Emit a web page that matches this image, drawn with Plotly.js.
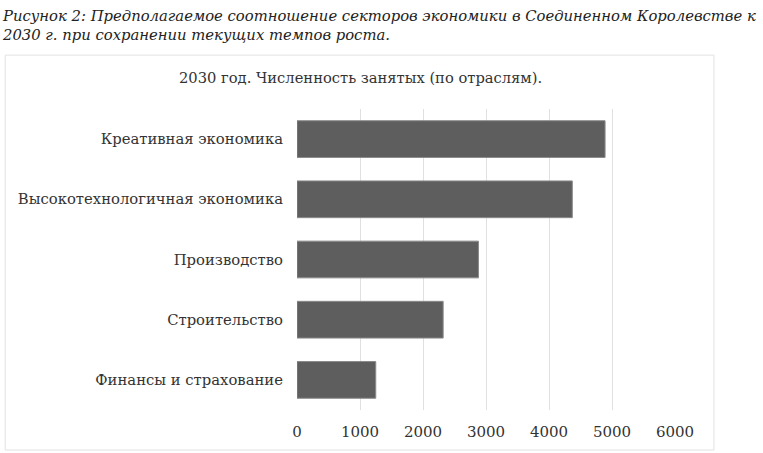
<!DOCTYPE html>
<html>
<head>
<meta charset="utf-8">
<script src="https://cdn.plot.ly/plotly-3.0.1.min.js"></script>
<style>
  html, body { margin: 0; padding: 0; background: #fff; }
  #plot { width: 763px; height: 453px; }
</style>
</head>
<body>
<div id="plot"></div>
<script>
// отрасли сверху вниз
var sectors = [
    "Креативная экономика",
    "Высокотехнологичная экономика",
    "Производство",
    "Строительство",
    "Финансы и страхование"
];
// численность занятых, 2030 (тыс.)
var employed = [4890, 4370, 2880, 2320, 1250];

var xTicks = [0, 1000, 2000, 3000, 4000, 5000, 6000];

var figCaption = "Рисунок 2: Предполагаемое соотношение секторов экономики в Соединенном Королевстве к<br>2030 г. при сохранении текущих темпов роста.";
var chartTitle = "2030 год. Численность занятых (по отраслям).";

var serif = "DejaVu Serif, Liberation Serif, serif";

var trace1 = {
    type: "bar",
    orientation: "h",
    y: sectors,
    x: employed,
    marker: { color: "#5e5e5e", line: { color: "#8a8a8a", width: 1 } },
    hoverinfo: "x+y"
};

var layout = {
    width: 763,
    height: 453,
    margin: { l: 297, r: 88, t: 109, b: 43 },
    paper_bgcolor: "#fff",
    plot_bgcolor: "#fff",
    showlegend: false,
    bargap: 0.39,
    font: { family: serif, color: "#333", size: 14 },
    xaxis: {
        range: [0, 6000],
        tickvals: xTicks,
        ticktext: xTicks.map(String),
        showgrid: true,
        gridcolor: "#e0e0e0",
        gridwidth: 1,
        zeroline: false,
        showline: false,
        ticks: "",
        ticklabelstandoff: 11,
        tickfont: { size: 15, color: "#333" },
        fixedrange: true
    },
    yaxis: {
        autorange: "reversed",
        showgrid: false,
        zeroline: false,
        showline: false,
        ticks: "",
        ticklabelstandoff: 13,
        tickfont: { size: 14.8, color: "#333" },
        fixedrange: true
    },
    shapes: [{
        type: "rect",
        xref: "paper", yref: "paper",
        x0: -0.772, x1: 1.103,
        y0: -0.133, y1: 1.179,
        line: { color: "#e2e2e2", width: 1 },
        layer: "below"
    }],
    annotations: [{
        xref: "paper", yref: "paper",
        x: -0.786, y: 1.347,
        xanchor: "left", yanchor: "top",
        align: "left",
        showarrow: false,
        text: "<i>" + figCaption + "</i>",
        font: { family: serif, size: 14.8, color: "#222" }
    }, {
        xref: "paper", yref: "paper",
        x: 0.169, y: 1.106,
        xanchor: "center", yanchor: "middle",
        showarrow: false,
        text: chartTitle,
        font: { family: serif, size: 14.7, color: "#333" }
    }]
};

Plotly.newPlot("plot", [trace1], layout, { displayModeBar: false, staticPlot: true });
</script>
</body>
</html>
